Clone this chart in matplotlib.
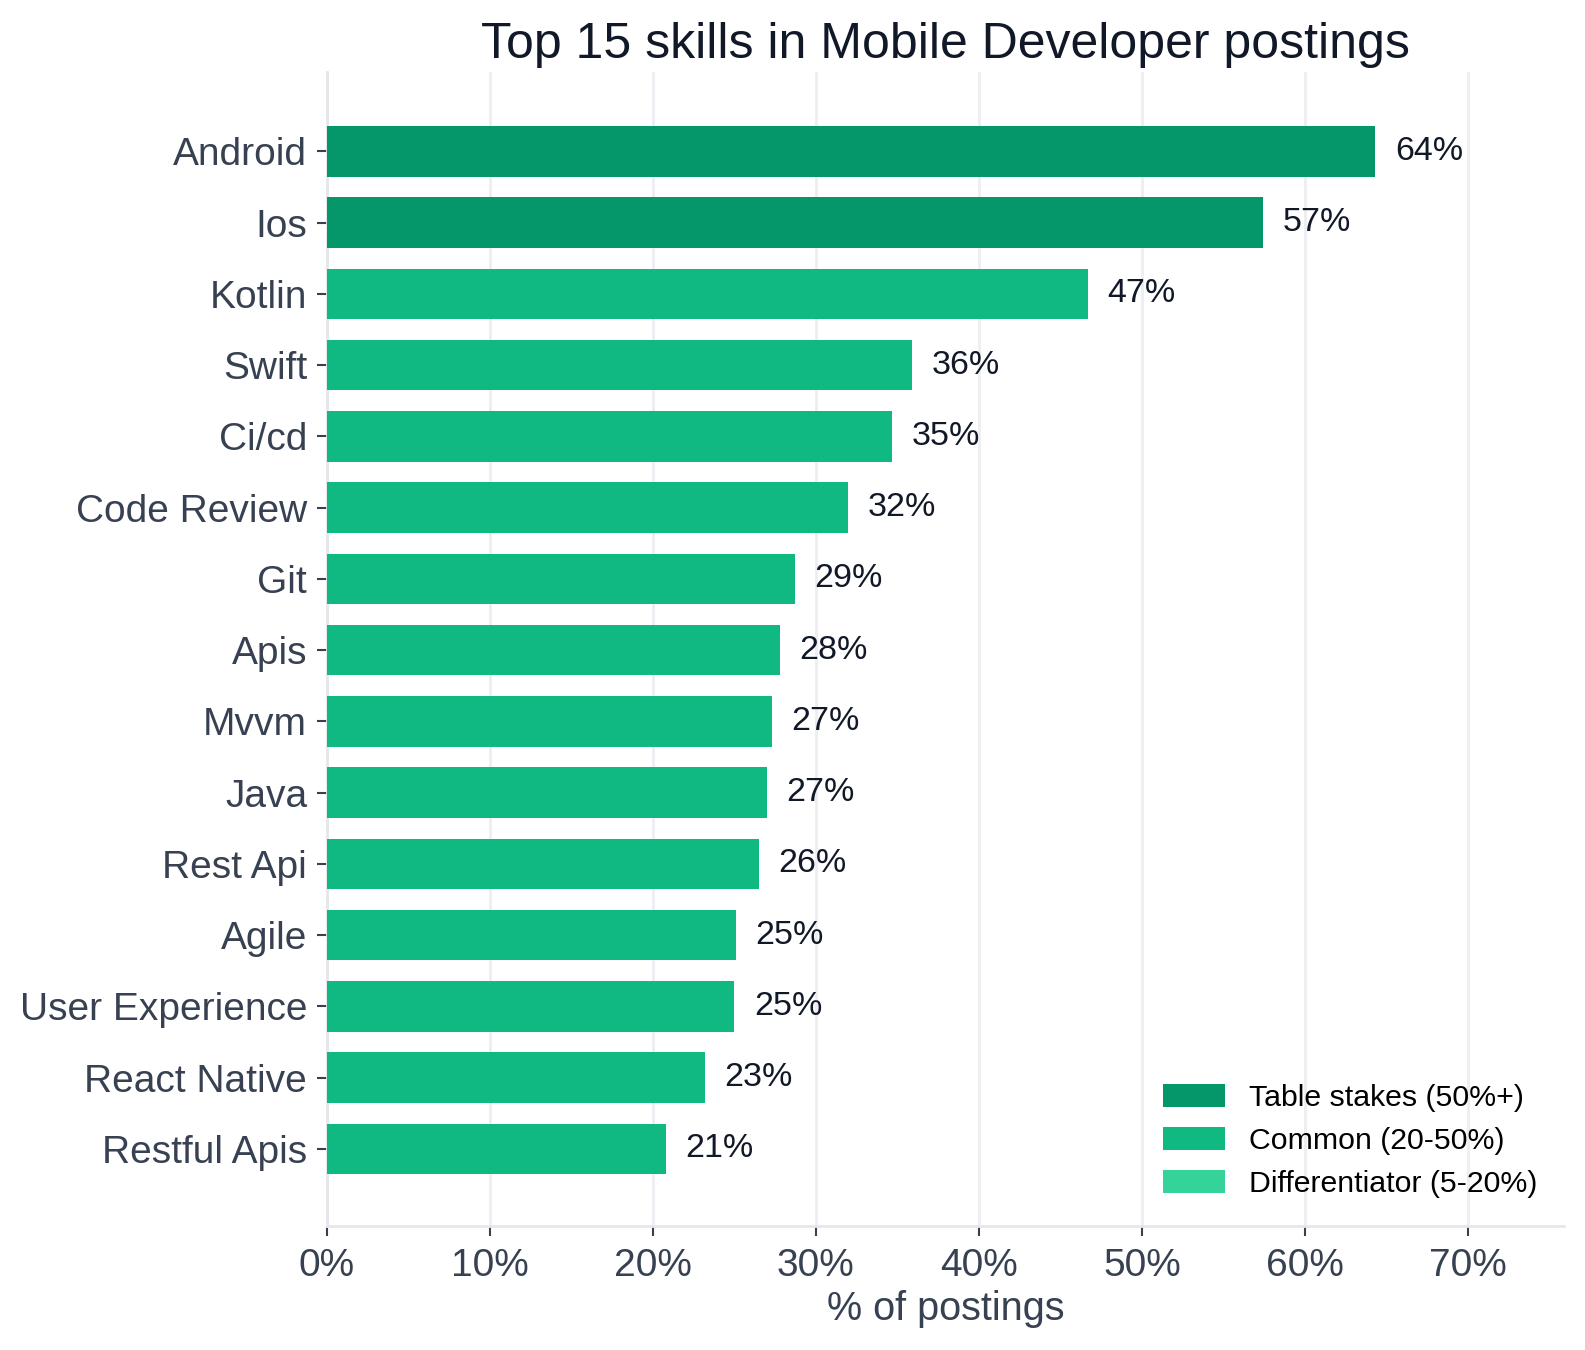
import matplotlib.pyplot as plt
from matplotlib.patches import Patch
from matplotlib.ticker import PercentFormatter

plt.rcParams["font.family"] = ["Liberation Sans", "DejaVu Sans"]

# ── data ───────────────────────────────────────────────────────────────────────
skills = ["Android", "Ios", "Kotlin", "Swift", "Ci/cd", "Code Review", "Git", "Apis",
          "Mvvm", "Java", "Rest Api", "Agile", "User Experience", "React Native",
          "Restful Apis"]
share = [64.3, 57.4, 46.7, 35.9, 34.7, 32.0, 28.7, 27.8, 27.3, 27.0, 26.5, 25.1,
         25.0, 23.2, 20.8]

tier_names  = ["Table stakes (50%+)", "Common (20-50%)", "Differentiator (5-20%)"]
tier_colors = ["#059669", "#10B981", "#34D399"]


def tier_color(v):
    if v >= 50:
        return tier_colors[0]
    if v >= 20:
        return tier_colors[1]
    return tier_colors[2]


# ── plot ───────────────────────────────────────────────────────────────────────
fig = plt.figure(figsize=(15.85, 13.5), dpi=100)
ax = fig.add_axes([0.206, 0.092, 0.781, 0.855])

y = list(range(len(skills)))
ax.barh(y, share, height=0.71, color=[tier_color(v) for v in share], zorder=3)
for yi, v in zip(y, share):
    ax.text(v + 1.2, yi, f"{v:.0f}%", va="center", ha="left",
            fontsize=24.5, color="#111827", zorder=4)

ax.set_yticks(y)
ax.set_yticklabels(skills)
ax.set_ylim(len(skills) - 1 + 1.08, -1.12)
ax.set_xlim(0, 75.9)
ax.set_xticks(range(0, 80, 10))
ax.xaxis.set_major_formatter(PercentFormatter(decimals=0))

ax.tick_params(axis="both", labelsize=28, colors="#374151", length=7, width=1.5)
ax.tick_params(axis="x", pad=9)
ax.tick_params(axis="y", pad=7)
ax.grid(axis="x", color="#EEEEF2", linewidth=2, zorder=0)
ax.set_axisbelow(True)

for s in ["top", "right"]:
    ax.spines[s].set_visible(False)
for s in ["left", "bottom"]:
    ax.spines[s].set_color("#E5E7EB")
    ax.spines[s].set_linewidth(2)

ax.set_xlabel("% of postings", fontsize=28.5, color="#374151", labelpad=4)
ax.set_title("Top 15 skills in Mobile Developer postings", fontsize=36,
             color="#111827", pad=10)

handles = [Patch(facecolor=c, edgecolor="none", label=n)
           for n, c in zip(tier_names, tier_colors)]
ax.legend(handles=handles, loc="lower right", frameon=False, fontsize=21.8,
          handlelength=2.05, handleheight=0.8, handletextpad=0.8,
          labelspacing=0.5, borderaxespad=0.2, bbox_to_anchor=(0.993, 0.008))

plt.savefig("out.png", dpi=100)
